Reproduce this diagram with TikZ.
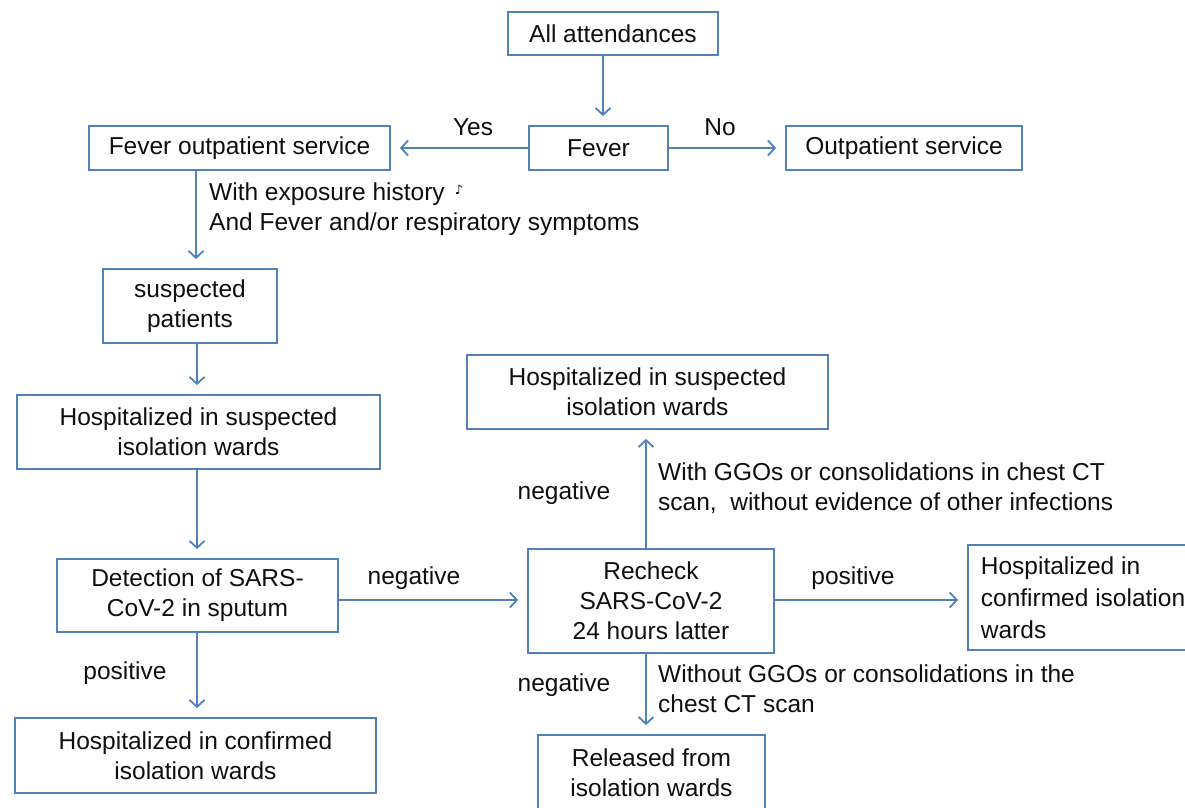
\documentclass[tikz,border=0pt]{standalone}
\usepackage{fontspec}
\setmainfont{Liberation Sans}
\newfontfamily\symfont{DejaVu Sans}
\usetikzlibrary{arrows.meta}
\definecolor{boxblue}{RGB}{79,129,189}
\definecolor{txt}{RGB}{15,15,15}
\tikzset{
  base/.style={text=txt, font=\fontsize{24.5}{30}\selectfont, inner sep=0pt},
  box/.style={base, draw=boxblue, line width=1.8pt, align=center},
  lbl/.style={base},
  arr/.style={draw=boxblue, line width=1.8pt, -{Straight Barb[length=7pt,width=15pt,line width=1.8pt]}, shorten >=9pt},
}
\begin{document}
\begin{tikzpicture}[x=1pt,y=-1pt]
\useasboundingbox (0,0) rectangle (1185,807);
% top row
\node[box, minimum width=210pt, minimum height=43pt] (all) at (613,33.5) {All attendances};
\node[box, minimum width=139pt, minimum height=44pt] (fever) at (598.5,148) {Fever};
\node[box, minimum width=301pt, minimum height=44pt] (fos) at (239.5,148) {Fever outpatient service};
\node[box, minimum width=236pt, minimum height=44pt] (os) at (904,148) {Outpatient service};
\node[lbl] (yes) at (473,127) {Yes};
\node[lbl] (no) at (720,127) {No};
% left column
\node[lbl, align=left, anchor=west] (expo) at (209,209) {With exposure history\hspace{10pt}{\symfont\fontsize{13}{13}\selectfont\raisebox{6pt}{♪}}\\And Fever and/or respiratory symptoms};
\node[box, minimum width=174pt, minimum height=74pt] (susp) at (190,306) {suspected\\patients};
\node[box, minimum width=363pt, minimum height=74pt] (hs1) at (198.5,432) {Hospitalized in suspected\\isolation wards};
\node[box, minimum width=281pt, minimum height=73pt] (det) at (197.5,595.5) {Detection of SARS-\\CoV-2 in sputum};
\node[lbl] (pos1) at (125,673) {positive};
\node[box, minimum width=361pt, minimum height=75pt] (hc1) at (195.5,755.5) {Hospitalized in confirmed\\isolation wards};
\node[lbl] (neg1) at (414,578) {negative};
% middle column
\node[box, minimum width=246pt, minimum height=104pt] (re) at (651,601) {Recheck\\SARS-CoV-2\\24 hours latter};
\node[box, minimum width=361pt, minimum height=74pt] (hs2) at (647.5,392) {Hospitalized in suspected\\isolation wards};
\node[lbl] (neg2) at (564,493) {negative};
\node[lbl, align=left, anchor=west] (ggo) at (658,488) {With GGOs or consolidations in chest CT\\scan,\ \ without evidence of other infections};
\node[lbl] (neg3) at (564,685) {negative};
\node[lbl, align=left, anchor=west] (noggo) at (658,689) {Without GGOs or consolidations in the\\chest CT scan};
\node[box, minimum width=227pt, minimum height=76pt] (rel) at (651.5,773) {Released from\\isolation wards};
\node[lbl] (pos2) at (853,578) {positive};
\node[box, font=\fontsize{24.5}{32}\selectfont, align=flush left, anchor=west, minimum width=250pt, minimum height=105pt, inner xsep=13pt, text width=224pt] (hc2) at (967,597.5) {Hospitalized in\\confirmed isolation\\wards};
% connectors
\draw[arr] (all.south -| 603,0) -- (fever.north -| 603,0);
\draw[arr] (fever.west) -- (fos.east);
\draw[arr] (fever.east) -- (os.west);
\draw[arr] (fos.south -| 196,0) -- (susp.north -| 196,0);
\draw[arr] (susp.south -| 197,0) -- (hs1.north -| 197,0);
\draw[arr] (hs1.south -| 197,0) -- (det.north -| 197,0);
\draw[arr] (det.south -| 197,0) -- (hc1.north -| 197,0);
\draw[arr] (det.east |- 0,600) -- (re.west |- 0,600);
\draw[arr] (re.north -| 646,0) -- (hs2.south -| 646,0);
\draw[arr] (re.east |- 0,600) -- (hc2.west |- 0,600);
\draw[arr] (re.south -| 646,0) -- (rel.north -| 646,0);
\end{tikzpicture}
\end{document}
